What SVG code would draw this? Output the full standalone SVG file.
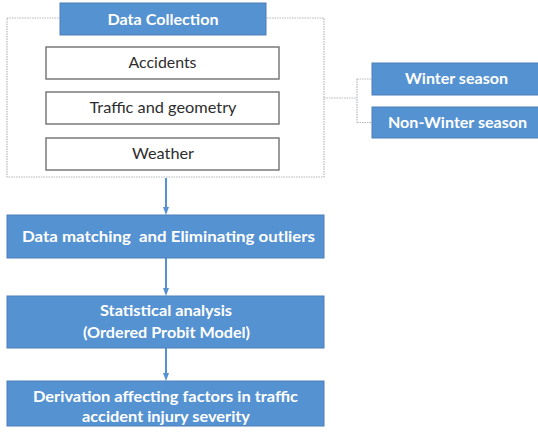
<svg xmlns="http://www.w3.org/2000/svg" width="538" height="435" viewBox="0 0 538 435">
  <style>
    .blue { fill: #5592d2; stroke: #4a7fb8; stroke-width: 1; }
    .white { fill: #ffffff; stroke: #7a7a7a; stroke-width: 1.5; }
    .dot { fill: none; stroke: #b4b8bd; stroke-width: 1.2; stroke-dasharray: 1.5 1; }
    .tw { font-family: "Lato", "Liberation Sans", sans-serif; font-weight: bold; font-size: 15px; fill: #ffffff; text-anchor: middle; }
    .td { font-family: "Lato", "Liberation Sans", sans-serif; font-size: 15px; fill: #2e2e2e; text-anchor: middle; }
    .arrow { stroke: #5592d2; stroke-width: 2; fill: none; }
  </style>
  <defs>
    <marker id="ah" markerWidth="8" markerHeight="8" refX="4" refY="4" orient="auto" markerUnits="userSpaceOnUse">
      <path d="M0,1 L8,4 L0,7 z" fill="#5592d2"/>
    </marker>
  </defs>
  <rect width="538" height="435" fill="#ffffff"/>

  <!-- dotted data collection frame and season bracket -->
  <g id="connectors">
    <rect class="dot" x="7" y="18" width="317" height="159"/>
    <path class="dot" d="M324,98 H357 M357,79 V122.5 M357,79 H372 M357,122.5 H372"/>
    <line class="arrow" x1="166" y1="178" x2="166" y2="211" marker-end="url(#ah)"/>
    <line class="arrow" x1="166" y1="258" x2="166" y2="292" marker-end="url(#ah)"/>
    <line class="arrow" x1="166" y1="348" x2="166" y2="377" marker-end="url(#ah)"/>
  </g>

  <g id="data-collection">
    <rect class="blue" x="60" y="3" width="206" height="32"/>
    <text class="tw" x="163" y="25" textLength="111" lengthAdjust="spacingAndGlyphs">Data Collection</text>
  </g>
  <g id="accidents">
    <rect class="white" x="46" y="47" width="233" height="32"/>
    <text class="td" x="162.5" y="68" textLength="68" lengthAdjust="spacingAndGlyphs">Accidents</text>
  </g>
  <g id="traffic">
    <rect class="white" x="46" y="92" width="233" height="32"/>
    <text class="td" x="163" y="113" textLength="147" lengthAdjust="spacingAndGlyphs">Traffic and geometry</text>
  </g>
  <g id="weather">
    <rect class="white" x="46" y="138" width="233" height="32"/>
    <text class="td" x="163" y="159" textLength="62" lengthAdjust="spacingAndGlyphs">Weather</text>
  </g>
  <g id="winter">
    <rect class="blue" x="372" y="63" width="172" height="32"/>
    <text class="tw" x="456.5" y="84" textLength="103" lengthAdjust="spacingAndGlyphs">Winter season</text>
  </g>
  <g id="non-winter">
    <rect class="blue" x="372" y="107" width="172" height="31"/>
    <text class="tw" x="457.5" y="128" textLength="139" lengthAdjust="spacingAndGlyphs">Non-Winter season</text>
  </g>
  <g id="matching">
    <rect class="blue" x="7" y="215" width="317" height="43"/>
    <text class="tw" x="168.5" y="242" textLength="293" lengthAdjust="spacingAndGlyphs" xml:space="preserve">Data matching  and Eliminating outliers</text>
  </g>
  <g id="analysis">
    <rect class="blue" x="7" y="296" width="317" height="52"/>
    <text class="tw" x="166" y="316" textLength="132" lengthAdjust="spacingAndGlyphs">Statistical analysis</text>
    <text class="tw" x="166.5" y="338" textLength="167" lengthAdjust="spacingAndGlyphs">(Ordered Probit Model)</text>
  </g>
  <g id="derivation">
    <rect class="blue" x="7" y="381" width="317" height="45"/>
    <text class="tw" x="165.5" y="402" textLength="265" lengthAdjust="spacingAndGlyphs">Derivation affecting factors in traffic</text>
    <text class="tw" x="166" y="422" textLength="168" lengthAdjust="spacingAndGlyphs">accident injury severity</text>
  </g>
</svg>
